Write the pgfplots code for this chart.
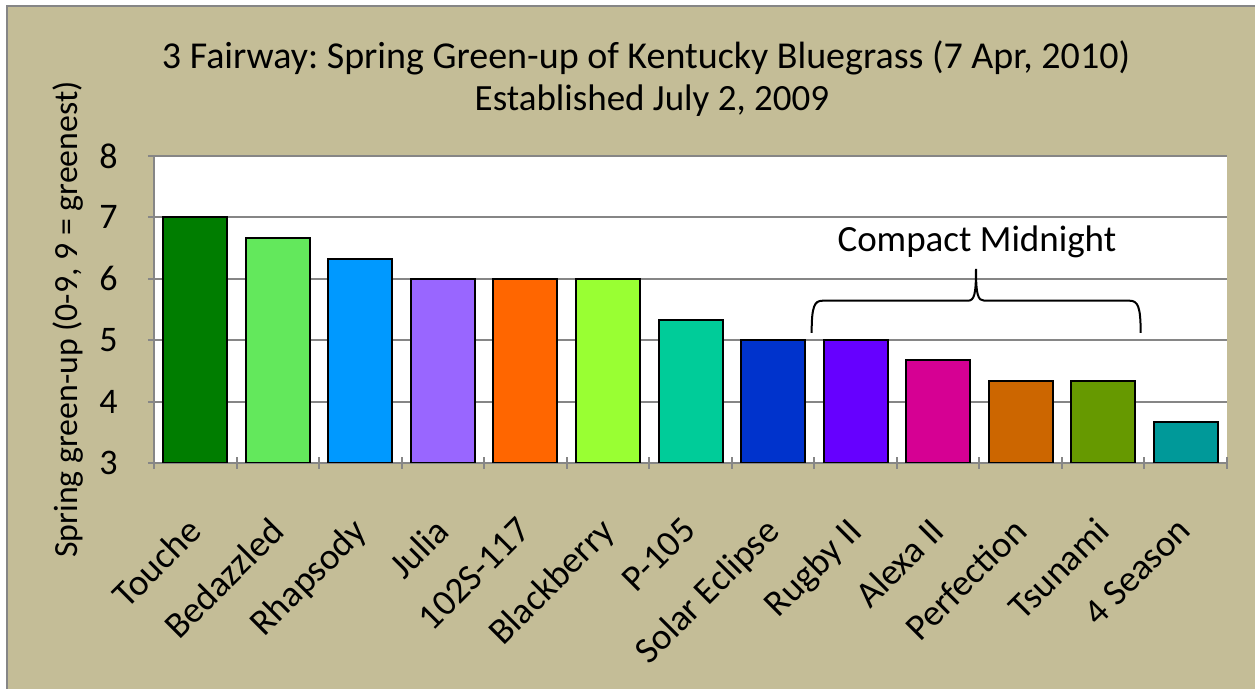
\documentclass[border=0pt]{standalone}
\usepackage{pgfplots}
\pgfplotsset{compat=1.18}
\usepackage{fontspec}
\setmainfont{Carlito}

\definecolor{tanbg}{HTML}{C4BD97}
\definecolor{gridgray}{HTML}{868686}
\definecolor{cTouche}{HTML}{007D00}
\definecolor{cBedaz}{HTML}{63E85C}
\definecolor{cRhap}{HTML}{0099FF}
\definecolor{cJulia}{HTML}{9966FF}
\definecolor{cOneO}{HTML}{FF6600}
\definecolor{cBlack}{HTML}{99FF33}
\definecolor{cPone}{HTML}{00CC99}
\definecolor{cSolar}{HTML}{0033CC}
\definecolor{cRugby}{HTML}{6600FF}
\definecolor{cAlexa}{HTML}{D60093}
\definecolor{cPerf}{HTML}{CC6600}
\definecolor{cTsu}{HTML}{669900}
\definecolor{cFour}{HTML}{009999}

\begin{document}
\frenchspacing
\begin{tikzpicture}
% page is 627.5pt x 344.5pt (1px = 0.5pt)
\useasboundingbox (0,0) rectangle (627.5pt,344.5pt);
\fill[white] (0,0) rectangle (627.5pt,344.5pt);
\fill[tanbg] (3.5pt,-2pt) rectangle (630pt,341.5pt);
\draw[gridgray, line width=1pt] (3.5pt,-2pt) -- (3.5pt,341.5pt) -- (630pt,341.5pt);

\node[anchor=base, font=\fontsize{19}{22}\selectfont] at (323pt,310pt)
  {3 Fairway: Spring Green-up of Kentucky Bluegrass (7 Apr, 2010)};
\node[anchor=base, font=\fontsize{18.5}{22}\selectfont] at (326pt,289pt)
  {Established July 2, 2009};

\begin{axis}[
    at={(77pt,113pt)}, anchor=south west,
    scale only axis,
    width=536.5pt, height=153.5pt,
    xmin=-0.5, xmax=12.5,
    ymin=3, ymax=8,
    ytick={3,4,5,6,7,8},
    xtick={0,...,12},
    xticklabels={Touche, Bedazzled, Rhapsody, Julia, 102S-117, Blackberry,
      P-105, Solar Eclipse, Rugby II, Alexa II, Perfection, Tsunami, 4 Season},
    minor xtick={-0.5,0.5,...,12.5},
    major x tick style={draw=none},
    tick align=outside,
    major tick length=6pt,
    minor tick length=6pt,
    tick style={gridgray, line width=1pt},
    axis x line=bottom, axis y line=left,
    axis line style={gridgray, line width=1pt, -},
    ymajorgrids,
    grid style={gridgray, line width=1pt},
    axis background/.style={fill=white},
    /pgf/number format/assume math mode=true,
    yticklabel style={font=\fontsize{18}{20}\selectfont, inner sep=0pt, xshift=-15pt},
    xticklabel style={font=\fontsize{18.5}{22}\selectfont, inner sep=0pt,
      xshift=-5pt, yshift=-23pt, rotate=45, anchor=north east},
    ylabel={Spring green-up (0-9, 9 = greenest)},
    every axis y label/.style={at={(rel axis cs:0,0.5)}, xshift=-43pt, yshift=-5pt,
      rotate=90, anchor=center, font=\fontsize{16.9}{20}\selectfont},
    every axis plot/.append style={ybar, bar width=32pt, bar shift=0pt, draw=black, line width=1pt},
    clip=true,
]
\addplot[fill=cTouche] coordinates {(0,7)};
\addplot[fill=cBedaz]  coordinates {(1,6.67)};
\addplot[fill=cRhap]   coordinates {(2,6.33)};
\addplot[fill=cJulia]  coordinates {(3,6)};
\addplot[fill=cOneO]   coordinates {(4,6)};
\addplot[fill=cBlack]  coordinates {(5,6)};
\addplot[fill=cPone]   coordinates {(6,5.33)};
\addplot[fill=cSolar]  coordinates {(7,5)};
\addplot[fill=cRugby]  coordinates {(8,5)};
\addplot[fill=cAlexa]  coordinates {(9,4.67)};
\addplot[fill=cPerf]   coordinates {(10,4.33)};
\addplot[fill=cTsu]    coordinates {(11,4.33)};
\addplot[fill=cFour]   coordinates {(12,3.67)};

\draw[black, line width=1pt]
  (axis cs:7.468,5.12) .. controls (axis cs:7.468,5.55) and (axis cs:7.50,5.643) .. (axis cs:7.60,5.643)
  -- (axis cs:9.36,5.643) .. controls (axis cs:9.44,5.643) and (axis cs:9.459,5.75) .. (axis cs:9.459,6.16)
  .. controls (axis cs:9.459,5.75) and (axis cs:9.48,5.643) .. (axis cs:9.56,5.643)
  -- (axis cs:11.32,5.643) .. controls (axis cs:11.42,5.643) and (axis cs:11.454,5.55) .. (axis cs:11.454,5.12);
\node[font=\fontsize{18.5}{22}\selectfont] at (axis cs:9.47,6.60) {Compact Midnight};
\end{axis}
\end{tikzpicture}
\end{document}
